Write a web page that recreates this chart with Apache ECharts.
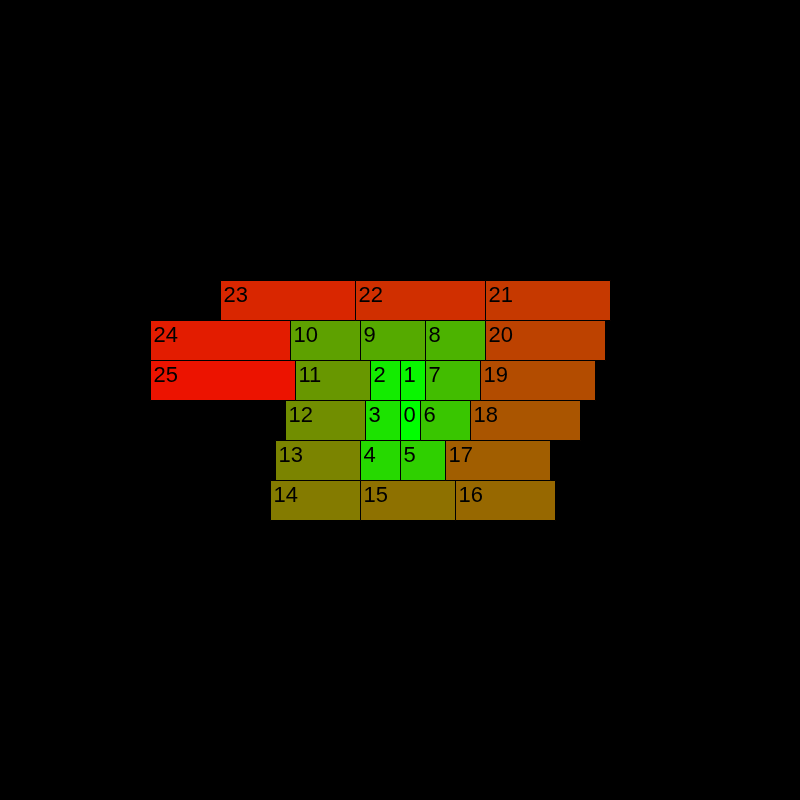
<!DOCTYPE html>
<html>
<head>
<meta charset="utf-8">
<style>html,body{margin:0;padding:0;background:#000;}#chart{width:800px;height:800px;}</style>
<script src="https://cdn.jsdelivr.net/npm/echarts/dist/echarts.min.js"></script>
</head>
<body>
<div id="chart"></div>
<script>
// ---- data ----
const labels = ['0','1','2','3','4','5','6','7','8','9','10','11','12','13','14','15','16','17','18','19','20','21','22','23','24','25'];
const values = [20,25,30,35,40,45,50,55,60,65,70,75,80,85,90,95,100,105,110,115,120,125,130,135,140,145];

// ---- spiral layout of row-stacked blocks ----
function spiral(vals) {
  const rows = {};
  const out = [];
  function put(i, row, start) {
    const end = start + vals[i];
    if (!rows[row]) rows[row] = { min: start, max: end };
    rows[row].min = Math.min(rows[row].min, start);
    rows[row].max = Math.max(rows[row].max, end);
    const it = { i: i, row: row, start: start, end: end };
    out.push(it);
    return it;
  }
  let prev = put(0, 0, 0);
  let gMin = prev.start, gMax = prev.end;
  let phase = 'up', row = 0;
  for (let i = 1; i < vals.length; i++) {
    const w = vals[i];
    let start;
    if (phase === 'up') {
      row -= 1;
      if (!rows[row]) { start = prev.start; phase = 'left'; }
      else start = rows[row].max;
    } else if (phase === 'left') {
      start = rows[row].min - w;
    } else if (phase === 'down') {
      row += 1;
      if (!rows[row]) { start = prev.end - w; phase = 'right'; }
      else start = rows[row].min - w;
    } else {
      start = rows[row].max;
    }
    const end = start + w;
    if (phase === 'left' && start < gMin) phase = 'down';
    else if (phase === 'right' && end > gMax) phase = 'up';
    prev = put(i, row, start);
    gMin = Math.min(gMin, start);
    gMax = Math.max(gMax, end);
  }
  return out;
}

const blocks = spiral(values);
const seriesData = blocks.map(b => [b.start, b.end, b.row, b.i, labels[b.i]]);

const chart = echarts.init(document.getElementById('chart'), null, { renderer: 'canvas' });
chart.setOption({
  backgroundColor: '#000000',
  animation: false,
  grid: { left: 0, right: 0, top: 0, bottom: 0 },
  xAxis: { type: 'value', min: -400, max: 400, show: false },
  yAxis: { type: 'value', min: -10, max: 10, inverse: true, show: false },
  visualMap: {
    type: 'continuous', show: false, dimension: 3, min: 0, max: 27,
    inRange: { color: ['#00ff00', '#ff0000'] }
  },
  series: [{
    type: 'custom',
    data: seriesData,
    encode: { x: [0, 1], y: 2 },
    renderItem: function (params, api) {
      const p0 = api.coord([api.value(0), api.value(2)]);
      const p1 = api.coord([api.value(1), api.value(2) + 1]);
      const x = Math.round(p0[0]) + 0.5, y = Math.round(p0[1]) + 0.5;
      const w = Math.round(p1[0] - p0[0]), h = Math.round(p1[1] - p0[1]);
      return {
        type: 'group',
        children: [
          { type: 'rect', shape: { x: x, y: y, width: w, height: h },
            style: { fill: api.visual('color'), stroke: '#000000', lineWidth: 1 } },
          { type: 'text', style: { text: api.value(4), x: x + 3, y: y + 4,
              font: '22px "Liberation Sans", Arial, sans-serif', fill: '#000000',
              align: 'left', verticalAlign: 'top' } }
        ]
      };
    }
  }]
});
</script>
</body>
</html>
